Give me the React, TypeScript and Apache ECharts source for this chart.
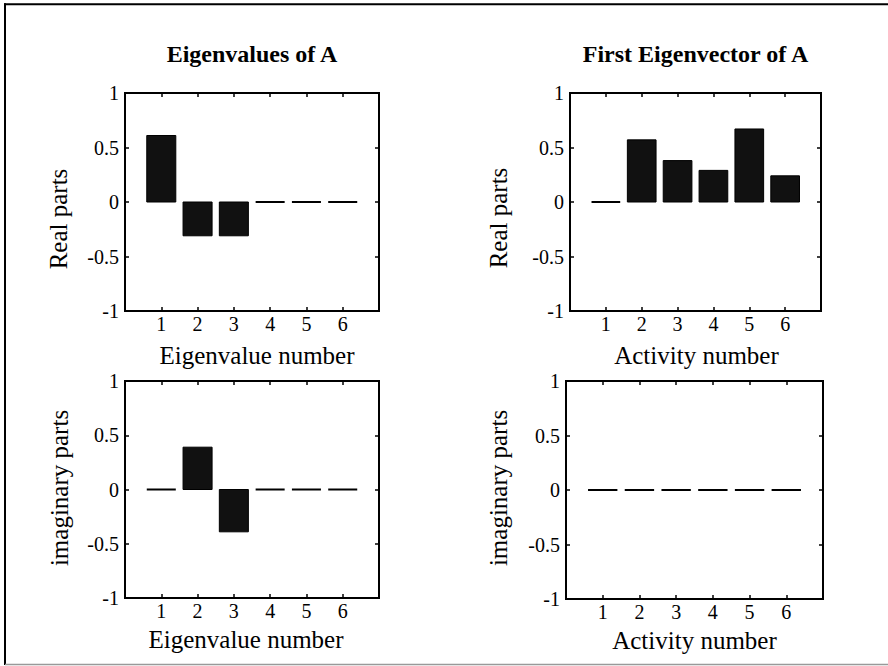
import React, { useEffect, useRef } from "react";
import * as echarts from "echarts";

const categories = [1, 2, 3, 4, 5, 6];
const eigenvalueReal = [0.61, -0.31, -0.31, 0, 0, 0];
const eigenvalueImag = [0, 0.39, -0.39, 0, 0, 0];
const eigenvectorReal = [0, 0.57, 0.38, 0.29, 0.67, 0.24];
const eigenvectorImag = [0, 0, 0, 0, 0, 0];
const yTickValues = [-1, -0.5, 0, 0.5, 1];
const titles = ["Eigenvalues of A", "First Eigenvector of A"];
const xNames = ["Eigenvalue number", "Activity number"];
const yNames = ["Real parts", "imaginary parts"];

const FONT = '"Liberation Serif", "Times New Roman", Times, serif';

export default function App() {
  const ref = useRef<HTMLDivElement>(null);

  useEffect(() => {
    if (!ref.current) return;
    const chart = echarts.init(ref.current, undefined, { renderer: "svg" });

    const panels = [
      { grid: { left: 125, top: 93, width: 254, height: 218 }, data: eigenvalueReal, title: titles[0], xName: xNames[0], yName: yNames[0], nameGap: 32, namePad: 10, yNamePos: [58, 219] },
      { grid: { left: 570, top: 93, width: 251, height: 218 }, data: eigenvectorReal, title: titles[1], xName: xNames[1], yName: yNames[0], nameGap: 32, namePad: 2, yNamePos: [498, 218] },
      { grid: { left: 125, top: 381, width: 254, height: 217 }, data: eigenvalueImag, title: null, xName: xNames[0], yName: yNames[1], nameGap: 29, namePad: -12, yNamePos: [59, 488] },
      { grid: { left: 566, top: 381, width: 257, height: 218 }, data: eigenvectorImag, title: null, xName: xNames[1], yName: yNames[1], nameGap: 29, namePad: 0, yNamePos: [498, 488] },
    ];

    const grids: any[] = [];
    const xAxes: any[] = [];
    const yAxes: any[] = [];
    const series: any[] = [];
    const titleOpts: any[] = [];
    const graphics: any[] = [];

    const tickStyle = { show: true, inside: true, length: 4, lineStyle: { color: "#000", width: 1.5 } };
    const noLine = { show: false, onZero: false };

    panels.forEach((p, i) => {
      grids.push({
        ...p.grid,
        show: true,
        borderColor: "#000",
        borderWidth: 2,
        backgroundColor: "transparent",
        containLabel: false,
      });
      const xBase = {
        type: "value",
        gridIndex: i,
        min: 0,
        max: 7,
        interval: 1,
        axisLine: noLine,
        axisTick: tickStyle,
        splitLine: { show: false },
      };
      xAxes.push({
        ...xBase,
        position: "bottom",
        axisLabel: {
          show: true,
          margin: 3,
          fontSize: 20,
          fontFamily: FONT,
          color: "#000",
          formatter: (v: number) => (categories.indexOf(v) >= 0 ? String(v) : ""),
        },
        name: p.xName,
        nameLocation: "middle",
        nameGap: p.nameGap,
        nameTextStyle: {
          fontSize: 25,
          fontFamily: FONT,
          color: "#000",
          padding: p.namePad >= 0 ? [0, 0, 0, p.namePad] : [0, -p.namePad, 0, 0],
        },
      });
      xAxes.push({ ...xBase, position: "top", axisLabel: { show: false } });

      const yBase = {
        type: "value",
        gridIndex: i,
        min: -1,
        max: 1,
        interval: 0.5,
        axisLine: noLine,
        axisTick: tickStyle,
        splitLine: { show: false },
      };
      yAxes.push({
        ...yBase,
        position: "left",
        axisLabel: {
          show: true,
          margin: 6,
          fontSize: 20,
          fontFamily: FONT,
          color: "#000",
          formatter: (v: number) => (yTickValues.indexOf(v) >= 0 ? String(v) : ""),
        },
      });
      yAxes.push({ ...yBase, position: "right", axisLabel: { show: false } });

      series.push({
        type: "custom",
        xAxisIndex: i * 2,
        yAxisIndex: i * 2,
        encode: { x: 0, y: 1 },
        data: categories.map((c, k) => [c, p.data[k]]),
        renderItem: (params: any, api: any) => {
          const x = api.value(0);
          const v = api.value(1);
          const p0 = api.coord([x - 0.4, 0]);
          const p1 = api.coord([x + 0.4, v]);
          if (Math.abs(p1[1] - p0[1]) < 1) {
            return {
              type: "line",
              shape: { x1: p0[0], y1: p0[1], x2: p1[0], y2: p0[1] },
              style: { stroke: "#000", lineWidth: 2 },
            };
          }
          return {
            type: "rect",
            shape: {
              x: p0[0],
              y: Math.min(p0[1], p1[1]),
              width: p1[0] - p0[0],
              height: Math.abs(p1[1] - p0[1]),
            },
            style: { fill: "#111", stroke: "#000", lineWidth: 1 },
          };
        },
      });

      if (p.title) {
        titleOpts.push({
          text: p.title,
          left: p.grid.left + p.grid.width / 2,
          top: 42,
          textAlign: "center",
          padding: 0,
          textStyle: { fontSize: 24, fontWeight: "bold", fontFamily: FONT, color: "#000" },
        });
      }

      graphics.push({
        type: "text",
        x: p.yNamePos[0],
        y: p.yNamePos[1],
        rotation: Math.PI / 2,
        style: {
          text: p.yName,
          fontSize: 25,
          fontFamily: FONT,
          fill: "#000",
          textAlign: "center",
          textVerticalAlign: "middle",
          align: "center",
          verticalAlign: "middle",
        },
      });
    });

    graphics.push(
      { type: "line", shape: { x1: 4, y1: 4.3, x2: 888, y2: 4.3 }, style: { stroke: "#000", lineWidth: 2 } },
      { type: "line", shape: { x1: 5, y1: 3.3, x2: 5, y2: 665 }, style: { stroke: "#000", lineWidth: 2 } },
      { type: "line", shape: { x1: 5, y1: 664.5, x2: 888, y2: 664.5 }, style: { stroke: "#999", lineWidth: 1.5 } }
    );

    chart.setOption({
      animation: false,
      backgroundColor: "#fff",
      title: titleOpts,
      grid: grids,
      xAxis: xAxes,
      yAxis: yAxes,
      series,
      graphic: graphics,
    });

    return () => chart.dispose();
  }, []);

  return (
    <div
      ref={ref}
      style={{ position: "absolute", left: 0, top: 0, width: 888, height: 666, background: "#fff" }}
    />
  );
}
